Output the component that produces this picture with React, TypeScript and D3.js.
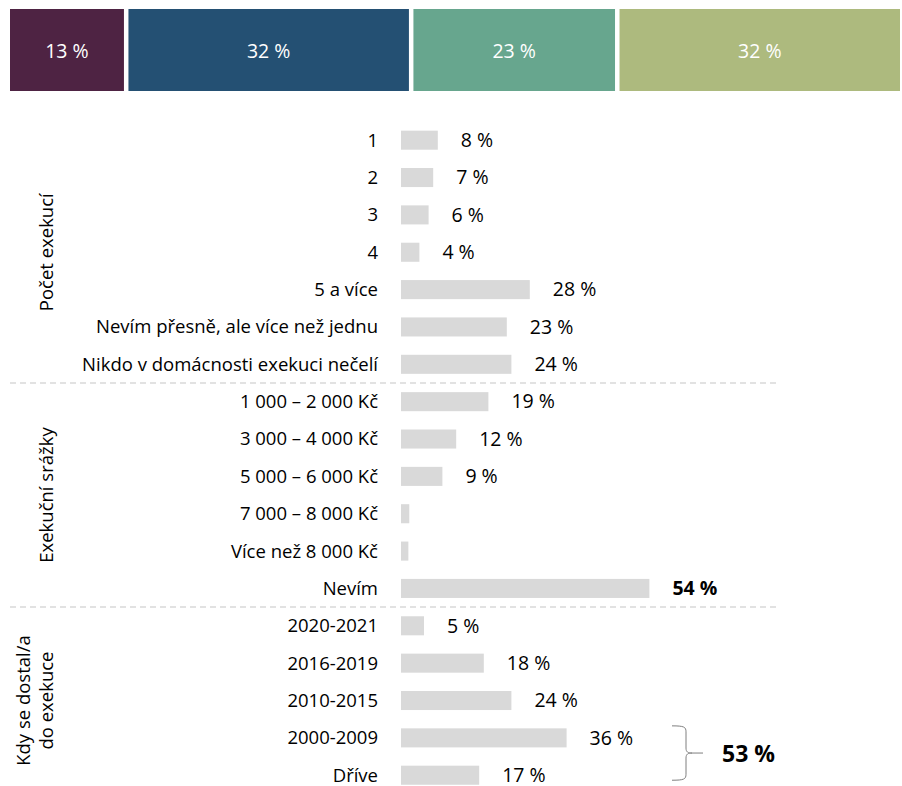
import * as d3 from 'd3';

// top stacked bar
const topShares = [13, 32, 23, 32];
const topColors = ['#4e2343', '#245073', '#67a68e', '#adba7e'];

// bar rows, by group
const groups = [
  { name: ['Počet exekucí'], rows: ['1', '2', '3', '4', '5 a více', 'Nevím přesně, ale více než jednu', 'Nikdo v domácnosti exekuci nečelí'] },
  { name: ['Exekuční srážky'], rows: ['1 000 – 2 000 Kč', '3 000 – 4 000 Kč', '5 000 – 6 000 Kč', '7 000 – 8 000 Kč', 'Více než 8 000 Kč', 'Nevím'] },
  { name: ['Kdy se dostal/a', 'do exekuce'], rows: ['2020-2021', '2016-2019', '2010-2015', '2000-2009', 'Dříve'] },
];
const values = [8, 7, 6, 4, 28, 23, 24, 19, 12, 9, 1.8, 1.6, 54, 5, 18, 24, 36, 17];
const valueLabels = ['8 %', '7 %', '6 %', '4 %', '28 %', '23 %', '24 %', '19 %', '12 %', '9 %', '', '', '54 %', '5 %', '18 %', '24 %', '36 %', '17 %'];
const boldLabels = ['54 %'];
const braceRows = ['2000-2009', 'Dříve'];
const braceLabel = '53 %';

const W = 902;
const H = 786;
const FONT = '"Open Sans", "Noto Sans", sans-serif';

export default function App() {
  const rows = groups.flatMap(g => g.rows);

  const xTop = d3.scaleLinear().domain([0, 100]).range([10, 900 - 13.5]);
  let cum = 0;
  const topSegs = topShares.map((v, i) => {
    const s = { x0: xTop(cum) + i * 4.5, w: xTop(v) - xTop(0), v, c: topColors[i] };
    cum += v;
    return s;
  });

  const y = d3.scaleBand().domain(rows).range([121.5, 793.9]).paddingInner(0.49).paddingOuter(0.245);
  const x = d3.scaleLinear().domain([0, 100]).range([401, 861]);
  const bw = y.bandwidth();
  const cy = (r: string) => (y(r) as number) + bw / 2;

  // separators between groups
  const seps: number[] = [];
  let idx = 0;
  groups.forEach((g, gi) => {
    idx += g.rows.length;
    if (gi < groups.length - 1) seps.push((cy(rows[idx - 1]) + cy(rows[idx])) / 2);
  });

  const bTop = cy(braceRows[0]) - 12;
  const bBot = cy(braceRows[1]) + 5;
  const bMid = (bTop + bBot) / 2;
  const bx0 = 672, bx1 = 686, bx2 = 692;
  const brace = `M${bx0},${bTop} C${bx1 - 2},${bTop} ${bx1},${bTop + 1} ${bx1},${bTop + 6} L${bx1},${bMid - 5} C${bx1},${bMid - 1} ${bx1 + 2},${bMid} ${bx2},${bMid} C${bx1 + 2},${bMid} ${bx1},${bMid + 1} ${bx1},${bMid + 5} L${bx1},${bBot - 6} C${bx1},${bBot - 1} ${bx1 - 2},${bBot} ${bx0},${bBot}`;

  return (
    <svg width={W} height={H} style={{ position: 'absolute', left: 0, top: 0, background: '#fff' }} fontFamily={FONT}>
      {topSegs.map((s, i) => (
        <g key={i}>
          <rect x={s.x0} y={9} width={s.w} height={82} fill={s.c} />
          <text x={s.x0 + s.w / 2} y={51} dy="0.35em" textAnchor="middle" fill="#fff" fontSize={19.5}>{s.v} %</text>
        </g>
      ))}

      {seps.map((sy, i) => (
        <line key={i} x1={10} x2={780} y1={sy} y2={sy} stroke="#d9d9d9" strokeWidth={1.5} strokeDasharray="6,4" />
      ))}

      {rows.map((r, i) => (
        <g key={r}>
          <text x={378} y={cy(r)} dy="0.35em" textAnchor="end" fontSize={18.5} fill="#000">{r}</text>
          <rect x={x(0)} y={y(r)} width={x(values[i]) - x(0)} height={bw} fill="#d9d9d9" />
          {valueLabels[i] && (
            <text x={x(values[i]) + 23} y={cy(r)} dy="0.35em" fontSize={19.5}
              fontWeight={boldLabels.includes(valueLabels[i]) ? 'bold' : 'normal'} fill="#000">{valueLabels[i]}</text>
          )}
        </g>
      ))}

      {groups.map((g, gi) => {
        const mid = (cy(g.rows[0]) + cy(g.rows[g.rows.length - 1])) / 2;
        return g.name.map((line, li) => {
          const lx = 47 - (g.name.length - 1 - li) * 23;
          return (
            <text key={gi + '-' + li} transform={`translate(${lx},${mid}) rotate(-90)`} dy="0.35em"
              textAnchor="middle" fontSize={18.5} fill="#000">{line}</text>
          );
        });
      })}

      <path d={brace} fill="none" stroke="#7f7f7f" strokeWidth={1} />
      <line x1={bx2} x2={703} y1={bMid} y2={bMid} stroke="#7f7f7f" strokeWidth={1} />
      <text x={722} y={bMid + 1} dy="0.35em" fontSize={23} fontWeight="bold" fill="#000">{braceLabel}</text>
    </svg>
  );
}
